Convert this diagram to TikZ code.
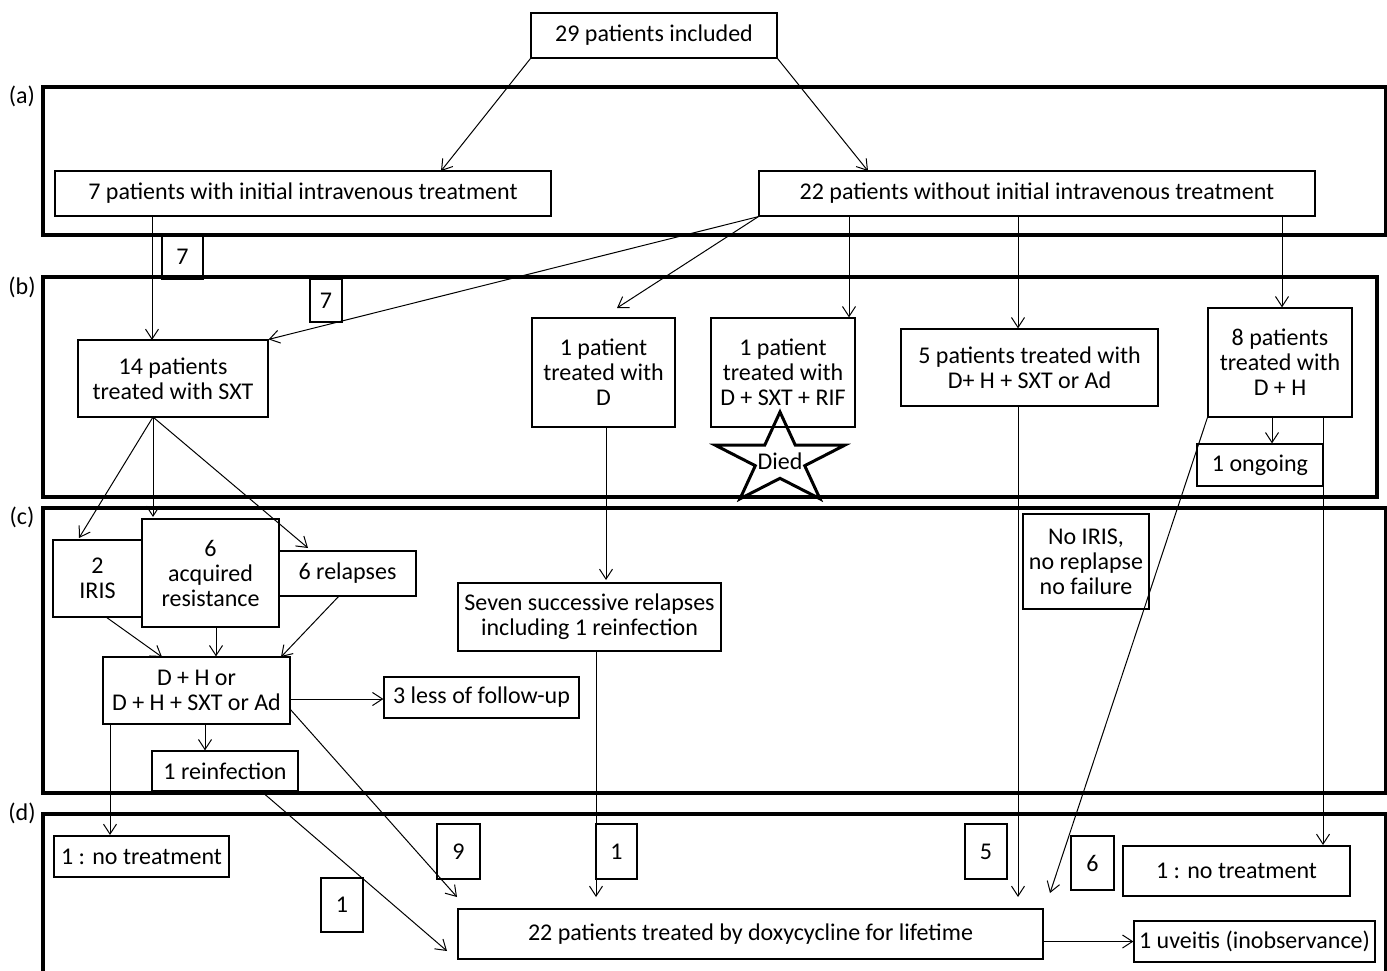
\documentclass[tikz,border=0pt]{standalone}
\usepackage{fontspec}
\setmainfont{Carlito}
\usetikzlibrary{arrows.meta}
\newcommand\fs{\fontsize{12}{12.5}\selectfont}
\newcommand\bx[6]{\node[box, minimum width={(#4-#2)*0.5pt}, minimum height={(#5-#3)*0.5pt}] (#1) at ({(#2+#4)/2},{(#3+#5)/2}) {#6};}
\begin{document}
\begin{tikzpicture}[x=0.5pt,y=-0.5pt,
  box/.style={draw, line width=0.6pt, inner sep=0pt, align=center, font=\fs},
  frame/.style={draw, line width=1.6pt},
  conn/.style={line width=0.5pt, -{Straight Barb[length=5pt,width=6.5pt]}},
  lab/.style={font=\fs}]
\useasboundingbox (0,0) rectangle (1387,970);
\begin{scope}
\clip (0,0) rectangle (1387,970);
% frames
\draw[frame] (43,87) rectangle (1386,235);
\draw[frame] (43,277) rectangle (1377,497);
\draw[frame] (43,508) rectangle (1386,793);
\draw[frame] (43,814) rectangle (1386,990);
\end{scope}
\node[lab] (la) at (22,96) {(a)};
\node[lab] (lb) at (22,287) {(b)};
\node[lab] (lc) at (22,517) {(c)};
\node[lab] (ld) at (22,813) {(d)};
% boxes
\bx{top}{531}{13}{777}{58}{29 patients included}
\bx{iv}{55}{171}{551}{216}{7 patients with initial intravenous treatment}
\bx{noiv}{759}{171}{1315}{216}{22 patients without initial intravenous treatment}
\bx{n7a}{162}{235}{203}{279}{7}
\bx{n7b}{310}{279}{342}{322}{7}
\bx{sxt}{78}{340}{268}{417}{14 patients\\treated with SXT}
\bx{dd}{532}{318}{675}{427}{1 patient\\treated with\\D}
\bx{dsr}{711}{318}{855}{427}{1 patient\\treated with\\D + SXT + RIF}
\bx{dhs}{901}{329}{1158}{406}{5 patients treated with\\D+ H + SXT or Ad}
\bx{dh}{1208}{308}{1352}{417}{8 patients\\treated with\\D + H}
\bx{ongoing}{1197}{444}{1323}{486}{1 ongoing}
\bx{iris}{53}{540}{142}{617}{2\\IRIS}
\bx{acq}{142}{519}{279}{627}{6\\acquired\\resistance}
\bx{rel}{279}{551}{416}{596}{6 relapses}
\bx{seven}{458}{583}{721}{651}{Seven successive relapses\\including 1 reinfection}
\bx{noiris}{1023}{514}{1149}{609}{No IRIS,\\no replapse\\no failure}
\bx{dhor}{103}{657}{290}{724}{D + H or\\D + H + SXT or Ad}
\bx{less}{384}{677}{579}{718}{3 less of follow-up}
\bx{reinf}{152}{751}{298}{791}{1 reinfection}
\bx{notr1}{54}{836}{229}{877}{1 : no treatment}
\bx{n9}{437}{824}{480}{879}{9}
\bx{n1a}{596}{824}{637}{879}{1}
\bx{n1b}{321}{878}{363}{932}{1}
\bx{doxy}{458}{909}{1043}{959}{22 patients treated by doxycycline for lifetime}
\bx{n5}{965}{824}{1007}{879}{5}
\bx{n6}{1071}{836}{1114}{890}{6}
\bx{notr2}{1123}{846}{1350}{896}{1 : no treatment}
\bx{uve}{1134}{921}{1375}{962}{1 uveitis (inobservance)}
% star
\node[font=\fs, inner sep=0pt] (died) at (780,461) {Died};
\draw[line width=1.5pt, line join=miter] (780,412) -- (795.3,445.2) -- (844.7,445.2) -- (804.7,465.7) -- (820,498.8) -- (780,478.3) -- (740,498.8) -- (755.3,465.7) -- (715.3,445.2) -- (764.7,445.2) -- cycle;
% connector points
\coordinate (t1) at (441,171);
\coordinate (t2) at (868,171);
\coordinate (s1) at (152,216);
\coordinate (e1) at (152,340);
\coordinate (e2) at (617,308);
\coordinate (s3) at (849,216);
\coordinate (s4) at (1018,216);
\coordinate (s5) at (1282,216);
\coordinate (s6) at (153,417);
\coordinate (e6a) at (79,538);
\coordinate (e6b) at (153,517);
\coordinate (e6c) at (308,548);
\coordinate (s7) at (606,427);
\coordinate (e7) at (606,580);
\coordinate (s8) at (106,617);
\coordinate (e8) at (162,657);
\coordinate (s9) at (216,627);
\coordinate (s10) at (339,596);
\coordinate (e10) at (281,657);
\coordinate (s11) at (290,699);
\coordinate (s12) at (205,724);
\coordinate (s13) at (110,724);
\coordinate (e13) at (110,835);
\coordinate (s14) at (290,709);
\coordinate (e14) at (457,897);
\coordinate (s15) at (261,791);
\coordinate (e15) at (447,951);
\coordinate (s16) at (596,651);
\coordinate (e16) at (596,897);
\coordinate (s17) at (1018,406);
\coordinate (e17) at (1018,897);
\coordinate (e18) at (1050,893);
\coordinate (s19) at (1272,417);
\coordinate (s20) at (1323,417);
\coordinate (e20) at (1323,845);
% connectors
\draw[conn] (top.south west) -- (t1);
\draw[conn] (top.south east) -- (t2);
\draw[conn] (s1) -- (e1);
\draw[conn] (noiv.south west) -- (sxt.north east);
\draw[conn] (noiv.south west) -- (e2);
\draw[conn] (s3) -- (dsr.north -| s3);
\draw[conn] (s4) -- (dhs.north -| s4);
\draw[conn] (s5) -- (dh.north -| s5);
\draw[conn] (s6) -- (e6a);
\draw[conn] (s6) -- (e6b);
\draw[conn] (s6) -- (e6c);
\draw[conn] (s7) -- (e7);
\draw[conn] (s8) -- (e8);
\draw[conn] (s9) -- (dhor.north -| s9);
\draw[conn] (s10) -- (e10);
\draw[conn] (s11) -- (less.west |- s11);
\draw[conn] (s12) -- (reinf.north -| s12);
\draw[conn] (s13) -- (e13);
\draw[conn] (s14) -- (e14);
\draw[conn] (s15) -- (e15);
\draw[conn] (s16) -- (e16);
\draw[conn] (s17) -- (e17);
\draw[conn] (dh.south west) -- (e18);
\draw[conn] (s19) -- (ongoing.north -| s19);
\draw[conn] (s20) -- (e20);
\draw[conn] (doxy.east |- uve.west) -- (uve.west);
\end{tikzpicture}
\end{document}
